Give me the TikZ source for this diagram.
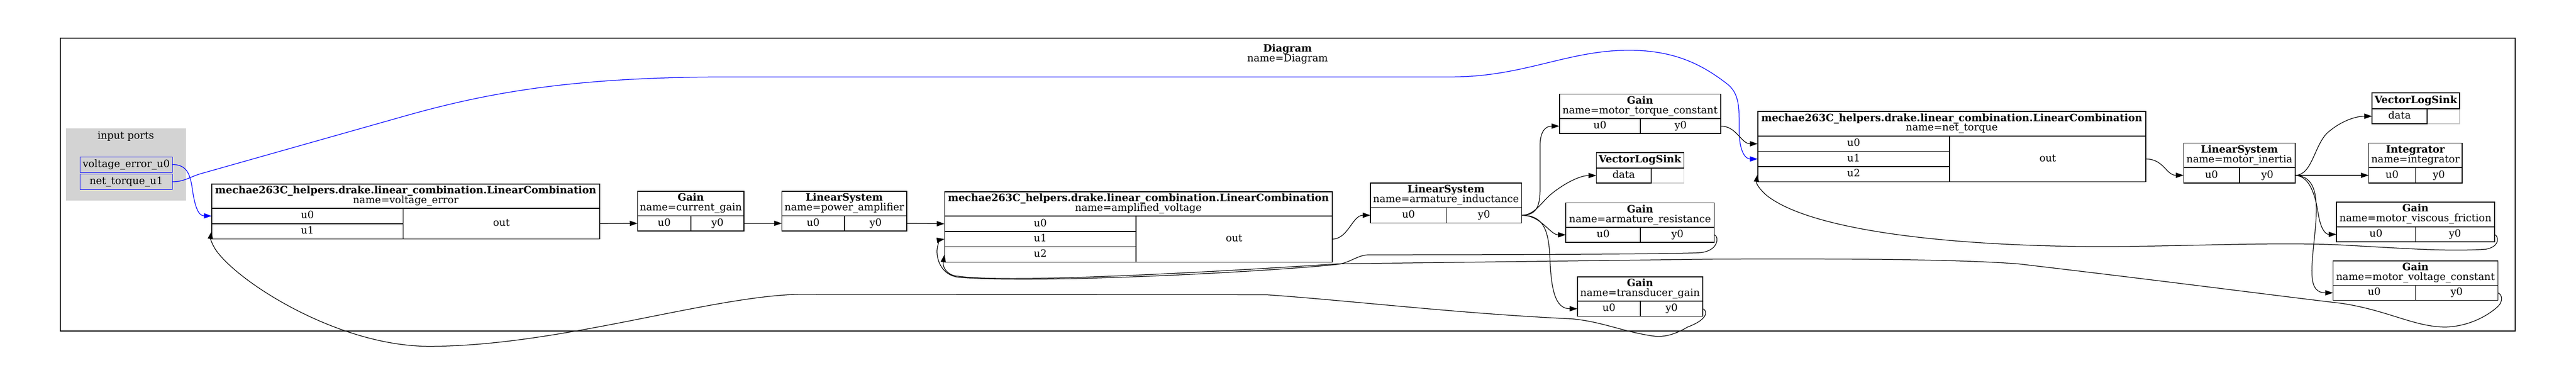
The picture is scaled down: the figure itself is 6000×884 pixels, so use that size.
\documentclass[tikz,border=0pt]{standalone}
\usepackage{fontspec}
\setmainfont{DejaVu Serif}
\usetikzlibrary{arrows.meta}
\definecolor{clgray}{HTML}{D3D3D3}
\definecolor{cellgray}{HTML}{C8C8C8}
\definecolor{pblue}{HTML}{0000FF}
\tikzset{
 blk/.style={draw=black, line width=2pt, inner sep=0pt, outer sep=0pt},
 blkline/.style={draw=black, line width=2pt},
 txt/.style={anchor=base, inner sep=0pt, outer sep=0pt, font=\fontsize{23.5}{22.7}\selectfont},
 edge/.style={black, line width=1.5pt, -{Triangle[length=18pt,width=12pt]}},
 bedge/.style={edge, pblue},
}
\newcommand{\tpblock}[9]{%
  \pgfmathsetmacro{\tpW}{#4-#2}\pgfmathsetmacro{\tpH}{#6-#3}%
  \node[blk, minimum width=\tpW pt, minimum height=\tpH pt] (#1) at ({(#2+#4)/2},{(#3+#6)/2}) {};
  \draw[blkline] (#2,#5) -- (#4,#5);
  \draw[blkline] (#7,#5) -- (#7,#6);
  \node[txt] (#1-t) at ({(#2+#4)/2},{(#3+#5)/2-6}) {\textbf{#8}};
  \node[txt] (#1-n) at ({(#2+#4)/2},{(#3+#5)/2+16.7}) {#9};
  \node[txt] (#1-ul) at ({(#2+#7)/2},{(#5+#6)/2+6}) {u0};
  \node[txt] (#1-yl) at ({(#7+#4)/2},{(#5+#6)/2+6}) {y0};
  \coordinate (#1-u0) at (#2,{(#5+#6)/2});
  \coordinate (#1-y0) at (#4,{(#5+#6)/2});
}
\newcommand{\lcblock}[9]{%
  \pgfmathsetmacro{\tpW}{#4-#2}\pgfmathsetmacro{\tpH}{#6-#3}%
  \pgfmathsetmacro{\tpR}{(#6-#5)/#8}\pgfmathtruncatemacro{\tpN}{#8-1}%
  \node[blk, minimum width=\tpW pt, minimum height=\tpH pt] (#1) at ({(#2+#4)/2},{(#3+#6)/2}) {};
  \draw[blkline] (#2,#5) -- (#4,#5);
  \draw[blkline] (#7,#5) -- (#7,#6);
  \foreach \k in {1,...,\tpN} {\draw[blkline] (#2,{#5+\k*\tpR}) -- (#7,{#5+\k*\tpR});}
  \foreach \k in {0,...,\tpN} {%
    \node[txt] (#1-l\k) at ({(#2+#7)/2},{#5+(\k+0.5)*\tpR+6}) {u\k};
    \coordinate (#1-u\k) at (#2,{#5+(\k+0.5)*\tpR});}
  \node[txt] (#1-t) at ({(#2+#4)/2},{(#3+#5)/2-6}) {\textbf{mechae263C\_helpers.drake.linear\_combination.LinearCombination}};
  \node[txt] (#1-n) at ({(#2+#4)/2},{(#3+#5)/2+16.7}) {#9};
  \node[txt] (#1-ol) at ({(#7+#4)/2},{(#5+#6)/2+6}) {out};
  \coordinate (#1-out) at (#4,{(#5+#6)/2});
}
\newcommand{\vlsblock}[7]{%
  \pgfmathsetmacro{\tpW}{#4-#2}\pgfmathsetmacro{\tpH}{#6-#3}%
  \node[inner sep=0pt, outer sep=0pt, minimum width=\tpW pt, minimum height=\tpH pt] (#1) at ({(#2+#4)/2},{(#3+#6)/2}) {};
  \draw[cellgray, line width=2pt] (#7,#6) -- (#4,#6) -- (#4,#5);
  \draw[blkline] (#2,#3) rectangle (#4,#5);
  \draw[blkline] (#2,#5) rectangle (#7,#6);
  \node[txt] (#1-t) at ({(#2+#4)/2},{(#3+#5)/2+6}) {\textbf{VectorLogSink}};
  \node[txt] (#1-dl) at ({(#2+#7)/2},{(#5+#6)/2+6}) {data};
  \coordinate (#1-data) at (#2,{(#5+#6)/2});
}
\begin{document}
\begin{tikzpicture}[x=1pt,y=-1pt]
\fill[white] (0,0) rectangle (6000,884);
\useasboundingbox (0,0) rectangle (6000,884);
% outer frame
\node[draw=black, line width=2pt, inner sep=0pt, minimum width=5718pt, minimum height=681.5pt] (frame) at (2999,429.25) {};
\node[txt] (ftitle) at (2999,120.5) {\textbf{Diagram}};
\node[txt] (fname) at (2999,143.2) {name=Diagram};
% input ports cluster
\node[fill=clgray, inner sep=0pt, minimum width=280pt, minimum height=168pt] (ipc) at (293,383) {};
\node[txt] (ipl) at (293,323) {input ports};
\node[draw=pblue, line width=1.5pt, inner sep=0pt, minimum width=214pt, minimum height=36pt] (pve) at (294,383) {};
\node[txt] (pvel) at (294,389) {voltage\_error\_u0};
\node[draw=pblue, line width=1.5pt, inner sep=0pt, minimum width=214pt, minimum height=36pt] (pnt) at (294,423) {};
\node[txt] (pntl) at (294,429) {net\_torque\_u1};
% blocks
\lcblock{lcv}{493}{428}{1397}{485}{556}{939}{2}{name=voltage\_error}
\tpblock{cg}{1485}{445}{1733}{502}{537.5}{1609}{Gain}{name=current\_gain}
\tpblock{pa}{1821}{445}{2112}{502}{537.5}{1967}{LinearSystem}{name=power\_amplifier}
\lcblock{lca}{2200}{446}{3103}{503}{610}{2646}{3}{name=amplified\_voltage}
\tpblock{ai}{3192}{426}{3544}{483}{519}{3369}{LinearSystem}{name=armature\_inductance}
\tpblock{mtc}{3632}{219}{4008}{276}{311}{3821}{Gain}{name=motor\_torque\_constant}
\vlsblock{vlsa}{3718}{355}{3922}{391}{426}{3846}
\tpblock{ar}{3647}{472}{3993}{529}{564}{3821}{Gain}{name=armature\_resistance}
\tpblock{tg}{3674}{644}{3966}{701}{736}{3821}{Gain}{name=transducer\_gain}
\lcblock{lcn}{4094}{259}{4998}{317}{423}{4541}{3}{name=net\_torque}
\tpblock{mi}{5086}{333}{5346}{390}{426}{5216}{LinearSystem}{name=motor\_inertia}
\vlsblock{vlsb}{5525}{216}{5729}{253}{288}{5653}
\tpblock{ig}{5517}{333}{5735}{390}{426}{5626}{Integrator}{name=integrator}
\tpblock{mvf}{5442}{470}{5810}{528}{563}{5626}{Gain}{name=motor\_viscous\_friction}
\tpblock{mvc}{5434}{607}{5818}{664}{699}{5626}{Gain}{name=motor\_voltage\_constant}
% blue edges
\draw[bedge] (pve.east) .. controls (435,383) and (443,405) .. (448,440) .. controls (454,482) and (462,502) .. (lcv-u0);
\draw[bedge] (pnt.east) .. controls (428,423) and (440,413) .. (465,405) -- (950,268) .. controls (1150,212) and (1350,179) .. (1700,179) -- (3380,179) .. controls (3550,179) and (3650,117) .. (3794,117) .. controls (3900,117) and (3965,150) .. (4025,197) .. controls (4055,222) and (4050,262) .. (4051,310) .. controls (4052,352) and (4065,370) .. (lcn-u1);
% forward edges
\draw[edge] (lcv-out) -- (cg-u0);
\draw[edge] (cg-y0) -- (pa-u0);
\draw[edge] (pa-y0) -- (lca-u0);
\draw[edge] (lca-out) .. controls (3140,556.5) and (3150,501) .. (ai-u0);
\draw[edge] (ai-y0) .. controls (3578,501) and (3587,482) .. (3587,440) -- (3587,340) .. controls (3587,305) and (3600,293.5) .. (mtc-u0);
\draw[edge] (ai-y0) .. controls (3575,501) and (3590,470) .. (3615,450) .. controls (3645,426) and (3680,408.5) .. (vlsa-data);
\draw[edge] (ai-y0) .. controls (3590,501) and (3610,546.5) .. (ar-u0);
\draw[edge] (ai-y0) .. controls (3592,501) and (3607,530) .. (3610,600) .. controls (3613,690) and (3628,718.5) .. (tg-u0);
\draw[edge] (mtc-y0) .. controls (4045,293.5) and (4055,334.5) .. (lcn-u0);
\draw[edge] (lcn-out) .. controls (5040,370) and (5045,408) .. (mi-u0);
\draw[edge] (mi-y0) .. controls (5385,408) and (5390,340) .. (5420,310) .. controls (5450,283) and (5485,270.5) .. (vlsb-data);
\draw[edge] (mi-y0) -- (ig-u0);
\draw[edge] (mi-y0) .. controls (5385,410) and (5395,470) .. (5400,500) .. controls (5405,530) and (5415,545.5) .. (mvf-u0);
\draw[edge] (mi-y0) .. controls (5395,410) and (5400,460) .. (5392,540) .. controls (5383,630) and (5375,681.5) .. (mvc-u0);
% feedback edges
\draw[edge] (ar-y0) .. controls (4004,549) and (4004,584) .. (3960,588) .. controls (3900,592) and (3400,593) .. (3190,593) .. controls (3160,593) and (3145,613) .. (3110,616) .. controls (2900,636) and (2400,660) .. (2230,645) .. controls (2190,638) and (2180,600) .. (2183,578) .. controls (2185,565) and (2190,558) .. (lca-u1);
\draw[edge] (mvc-y0) .. controls (5828,685) and (5832,702) .. (5815,716) .. controls (5775,750) and (5725,762) .. (5690,761) .. controls (5620,759) and (5560,722) .. (5454,706) .. controls (5300,688) and (5050,655) .. (4700,614) .. controls (4550,603) and (4300,602) .. (4000,603) -- (3117,614) .. controls (2900,628) and (2350,662) .. (2225,642) .. controls (2205,638) and (2195,622) .. (lca-u2);
\draw[edge] (tg-y0) .. controls (3976,722) and (3982,742) .. (3931,761) .. controls (3905,776) and (3880,786) .. (3850,782) .. controls (3780,772) and (3730,748) .. (3660,742) .. controls (3400,730) and (3150,700) .. (2950,686) -- (1860,685) .. controls (1650,690) and (1300,806) .. (1000,806) .. controls (790,806) and (560,660) .. (505,585) .. controls (495,572) and (490,555) .. (lcv-u1);
\draw[edge] (mvf-y0) .. controls (5820,549) and (5824,574) .. (5790,580) .. controls (5700,586) and (5600,578) .. (5450,570) .. controls (5300,563) and (5100,573) .. (4900,574) .. controls (4500,573) and (4210,530) .. (4115,455) .. controls (4100,442) and (4090,428) .. (lcn-u2);
\end{tikzpicture}
\end{document}
